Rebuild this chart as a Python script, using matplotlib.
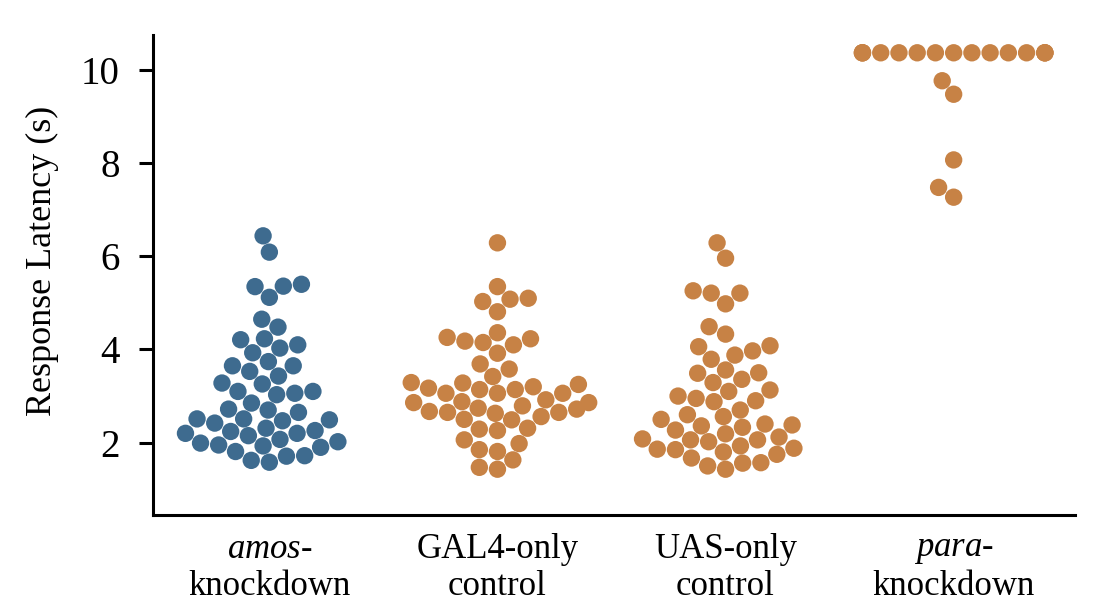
import numpy as np
import pandas as pd
import matplotlib
matplotlib.use("Agg")
import matplotlib.pyplot as plt
import seaborn as sns

groups = ["amos", "GAL4", "UAS", "para"]
tick_labels = [r"$\mathit{amos}$-" + "\nknockdown", "GAL4-only\ncontrol",
               "UAS-only\ncontrol", r"$\mathit{para}$-" + "\nknockdown"]

amos_vals = [6.44, 6.09, 5.40, 5.35, 5.36, 5.12, 4.65, 4.48,
             4.23, 4.10, 3.93, 4.03, 4.21, 3.65, 3.65, 3.43, 3.53, 3.74,
             3.26, 3.03, 3.06, 3.10, 3.28, 3.10, 2.85, 2.70, 2.65,
             2.72, 2.49, 2.51, 2.47, 2.42, 2.51, 2.26, 2.20, 2.15, 2.31, 2.20, 2.24,
             2.02, 1.90, 1.81, 1.93, 2.07, 1.95, 1.99, 1.62, 1.58, 1.71, 1.72]

gal4_vals = [6.29, 5.35, 5.03, 5.08, 5.10, 4.81, 4.36,
             4.23, 4.15, 4.10, 4.18, 4.26, 3.92, 3.69, 3.58, 3.42,
             3.28, 3.14, 3.25, 3.06, 3.06, 3.20, 3.06, 3.14, 3.17, 3.29,
             2.92, 2.86, 2.86, 2.88, 2.74, 2.65, 2.56, 2.65, 2.63, 2.67, 2.72, 2.79,
             2.49, 2.50, 2.31, 2.29, 2.26, 1.98, 2.06, 1.85, 1.81, 1.63, 1.47, 1.43]

uas_vals = [6.29, 5.96, 5.26, 5.21, 5.21, 4.98, 4.49, 4.33,
            4.08, 3.97, 3.79, 3.88, 4.06, 3.49, 3.50, 3.29, 3.36, 3.56,
            3.10, 3.00, 2.88, 2.90, 2.95, 3.13, 2.70, 2.56, 2.50,
            2.60, 2.36, 2.38, 2.33, 2.27, 2.40, 2.12, 2.06, 2.02, 2.19, 2.06, 2.08,
            1.88, 1.75, 1.67, 1.80, 1.93, 1.85, 1.86, 1.50, 1.43, 1.56, 1.57]

para_vals = [10.37] * 15 + [9.77, 9.48, 8.07, 7.48, 7.27]

colors = {"amos": "#3E6B8F", "GAL4": "#C78245", "UAS": "#C78245", "para": "#C78245"}

plt.rcParams["font.family"] = ["Liberation Serif", "DejaVu Serif"]
plt.rcParams["mathtext.fontset"] = "custom"
plt.rcParams["mathtext.it"] = "Liberation Serif:italic"
plt.rcParams["mathtext.rm"] = "Liberation Serif"

df = pd.DataFrame({
    "group": ["amos"] * len(amos_vals) + ["GAL4"] * len(gal4_vals)
             + ["UAS"] * len(uas_vals) + ["para"] * len(para_vals),
    "latency": amos_vals + gal4_vals + uas_vals + para_vals,
})

fig = plt.figure(figsize=(11.17, 6.05), dpi=100)
ax = fig.add_axes([0.137, 0.149, 0.825, 0.793])

sns.swarmplot(data=df, x="group", y="latency", hue="group", order=groups,
              palette=colors, size=12.5, legend=False, ax=ax, warn_thresh=1)

ax.set_xlim(-0.51, 3.53)
ax.set_ylim(0.45, 10.75)
ax.set_yticks([2, 4, 6, 8, 10])
ax.set_xticks(range(len(groups)))
ax.set_xticklabels(tick_labels, fontsize=25, linespacing=1.15)
ax.tick_params(axis="y", labelsize=28, width=2.2, length=10, pad=14)
ax.tick_params(axis="x", length=0, pad=13)
ax.set_xlabel("")
ax.set_ylabel("Response Latency (s)", fontsize=26)
ax.yaxis.set_label_coords(-0.102, 0.53)

for s in ["top", "right"]:
    ax.spines[s].set_visible(False)
ax.spines["left"].set_linewidth(2.2)
ax.spines["bottom"].set_linewidth(2.2)

fig.savefig("out.png", dpi=100)
